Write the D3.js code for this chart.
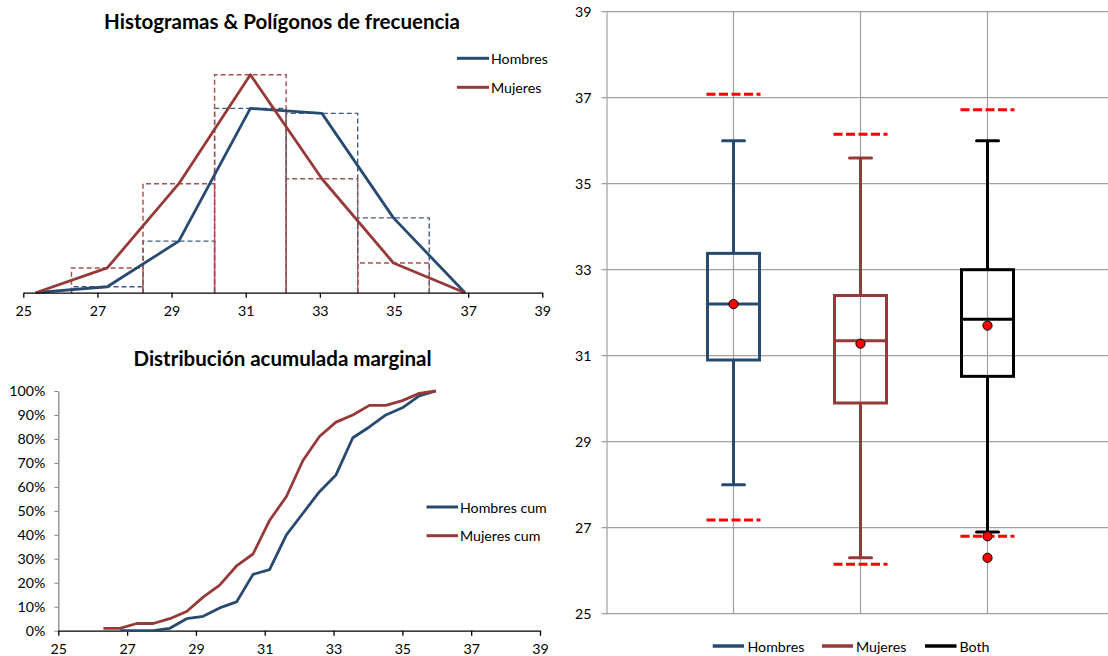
<!DOCTYPE html>
<html>
<head>
<meta charset="utf-8">
<script src="https://cdn.jsdelivr.net/npm/d3@7"></script>
<style>
  html, body { margin: 0; padding: 0; background: #fff; }
  svg { display: block; }
  text { font-family: Lato, "Open Sans", sans-serif; fill: #000; }
</style>
</head>
<body>
<svg id="chart" width="1108" height="656"></svg>
<script>
// ---------------- DATA ----------------
// Histogram / frequency polygon
const binEdges = [26.3, 28.23, 30.16, 32.09, 34.02, 35.95];
const polyX = [25.335, 27.265, 29.195, 31.125, 33.055, 34.985, 36.915];
const hombresFreq = [1.2, 10.4, 37.2, 36.2, 15.1];
const mujeresFreq = [5, 22, 44, 23, 6];
const histTicks = [25, 27, 29, 31, 33, 35, 37, 39];

// Cumulative distribution
const cumX = [26.31, 26.79, 27.28, 27.76, 28.24, 28.73, 29.21, 29.69, 30.18, 30.66, 31.14,
              31.63, 32.11, 32.59, 33.07, 33.56, 34.04, 34.52, 35.00, 35.49, 35.97];
const hombresCum = [null, 0, 0, 0, 1, 5, 6, 9.5, 12, 23.5, 25.5, 40, 49, 58, 65, 80.5, 85, 90, 93, 98, 100];
const mujeresCum = [1, 1, 3, 3, 5, 8, 14, 19, 27, 32, 46, 56, 71, 81, 87, 90, 94, 94, 96, 99, 100];
const cumYTicks = [0, 10, 20, 30, 40, 50, 60, 70, 80, 90, 100];

// Box plot
const boxCats = ["Hombres", "Mujeres", "Both"];
const boxPos = [1, 2, 3];
const whiskerLow = [28.0, 26.3, 26.9];
const q1 = [30.9, 29.9, 30.52];
const median = [32.2, 31.35, 31.85];
const q3 = [33.38, 32.4, 33.0];
const whiskerHigh = [36.0, 35.6, 36.0];
const means = [32.2, 31.28, 31.7];
const limitHigh = [37.08, 36.15, 36.72];
const limitLow = [27.18, 26.15, 26.8];
const outliersBoth = [26.8, 26.3];
const boxYTicks = [25, 27, 29, 31, 33, 35, 37, 39];

const BLUE = "#284A70", RED = "#953A38", BLACK = "#000";
const BLUE_D = "#3F5C82", RED_D = "#A84F4C";
const FS = 14.2, TFS = 20.5;

const svg = d3.select("#chart");

// ============ TOP-LEFT: Histogram & polygons ============
{
  const x = d3.scaleLinear().domain([25, 39]).range([23.3, 542.3]);
  const y = d3.scaleLinear().domain([0, 44]).range([292.7, 74.7]);
  const g = svg.append("g");

  g.append("text").attr("x", 282).attr("y", 21).attr("text-anchor", "middle")
    .attr("dominant-baseline", "central").attr("font-weight", "bold").attr("font-size", TFS)
    .text("Histogramas & Polígonos de frecuencia");

  const bins = d3.range(binEdges.length - 1).map(i => ({ x0: binEdges[i], x1: binEdges[i + 1], i }));
  const drawBins = (freq, color) => {
    g.append("g").selectAll("path").data(bins).join("path")
      .attr("d", b => `M${x(b.x0)},${y(0)}V${y(freq[b.i])}H${x(b.x1)}V${y(0)}`)
      .attr("fill", "none").attr("stroke", color).attr("stroke-width", 1.4)
      .attr("stroke-dasharray", "5,3");
  };
  drawBins(hombresFreq, BLUE_D);
  drawBins(mujeresFreq, RED_D);

  const line = d3.line().x(d => x(d[0])).y(d => y(d[1]));
  const poly = f => polyX.map((v, i) => [v, i === 0 || i === polyX.length - 1 ? 0 : f[i - 1]]);
  g.append("path").attr("d", line(poly(hombresFreq))).attr("fill", "none")
    .attr("stroke", BLUE).attr("stroke-width", 2.8).attr("stroke-linejoin", "round");
  g.append("path").attr("d", line(poly(mujeresFreq))).attr("fill", "none")
    .attr("stroke", RED).attr("stroke-width", 2.8).attr("stroke-linejoin", "round");

  const ax = g.append("g").attr("transform", `translate(0,${y(0)})`)
    .call(d3.axisBottom(x).tickValues(histTicks).tickSize(5).tickPadding(8).tickSizeOuter(0));
  ax.select(".domain").attr("stroke", "#000").attr("stroke-width", 1.3);
  ax.selectAll(".tick line").attr("stroke", "#000").attr("stroke-width", 1.3);
  ax.selectAll("text").attr("font-size", FS).attr("font-family", "Lato, sans-serif");

  const leg = [["Hombres", BLUE, 58.3], ["Mujeres", RED, 87.3]];
  leg.forEach(([t, c, yy]) => {
    g.append("line").attr("x1", 457).attr("x2", 489).attr("y1", yy).attr("y2", yy)
      .attr("stroke", c).attr("stroke-width", 3);
    g.append("text").attr("x", 491).attr("y", yy).attr("dominant-baseline", "central")
      .attr("font-size", FS).text(t);
  });
}

// ============ BOTTOM-LEFT: Cumulative ============
{
  const x = d3.scaleLinear().domain([25, 39]).range([58.3, 540]);
  const y = d3.scaleLinear().domain([0, 100]).range([630.7, 391]);
  const g = svg.append("g");

  g.append("text").attr("x", 282.5).attr("y", 358).attr("text-anchor", "middle")
    .attr("dominant-baseline", "central").attr("font-weight", "bold").attr("font-size", TFS)
    .text("Distribución acumulada marginal");

  const ay = g.append("g").attr("transform", `translate(${x(25)},0)`)
    .call(d3.axisLeft(y).tickValues(cumYTicks).tickFormat(d => d + "%").tickSize(4).tickPadding(9).tickSizeOuter(0));
  ay.select(".domain").attr("stroke", "#868686").attr("stroke-width", 1.3);
  ay.selectAll(".tick line").attr("stroke", "#868686");
  ay.selectAll("text").attr("font-size", FS).attr("font-family", "Lato, sans-serif");

  const ax = g.append("g").attr("transform", `translate(0,${y(0)})`)
    .call(d3.axisBottom(x).tickValues(histTicks).tickSize(5).tickPadding(8).tickSizeOuter(0));
  ax.select(".domain").attr("stroke", "#000").attr("stroke-width", 1.3);
  ax.selectAll(".tick line").attr("stroke", "#000").attr("stroke-width", 1.3);
  ax.selectAll("text").attr("font-size", FS).attr("font-family", "Lato, sans-serif");

  const line = d3.line().defined(d => d[1] !== null).x(d => x(d[0])).y(d => y(d[1]));
  g.append("path").attr("d", line(cumX.map((v, i) => [v, hombresCum[i]]))).attr("fill", "none")
    .attr("stroke", BLUE).attr("stroke-width", 2.8).attr("stroke-linejoin", "round");
  g.append("path").attr("d", line(cumX.map((v, i) => [v, mujeresCum[i]]))).attr("fill", "none")
    .attr("stroke", RED).attr("stroke-width", 2.8).attr("stroke-linejoin", "round");

  const leg = [["Hombres cum", BLUE, 507], ["Mujeres cum", RED, 535.7]];
  leg.forEach(([t, c, yy]) => {
    g.append("line").attr("x1", 426.5).attr("x2", 458).attr("y1", yy).attr("y2", yy)
      .attr("stroke", c).attr("stroke-width", 3);
    g.append("text").attr("x", 460).attr("y", yy).attr("dominant-baseline", "central")
      .attr("font-size", FS).text(t);
  });
}

// ============ RIGHT: Box plot ============
{
  const x = d3.scaleLinear().domain([0, 4]).range([606.5, 1114.5]);
  const y = d3.scaleLinear().domain([25, 39]).range([613.7, 11.7]);
  const g = svg.append("g");
  const GRID = "#A0A0A0";

  g.append("g").selectAll("line").data(boxYTicks).join("line")
    .attr("x1", x(0) - 5).attr("x2", 1108).attr("y1", d => y(d)).attr("y2", d => y(d))
    .attr("stroke", GRID).attr("stroke-width", 1.2);
  g.append("g").selectAll("line").data(boxPos).join("line")
    .attr("x1", d => x(d)).attr("x2", d => x(d)).attr("y1", y(39)).attr("y2", y(25))
    .attr("stroke", GRID).attr("stroke-width", 1.2);
  const ay = g.append("g").attr("transform", `translate(${x(0)},0)`)
    .call(d3.axisLeft(y).tickValues(boxYTicks).tickSize(0).tickPadding(15).tickSizeOuter(0));
  ay.select(".domain").attr("stroke", GRID).attr("stroke-width", 1.2);
  ay.selectAll("text").attr("font-size", FS).attr("font-family", "Lato, sans-serif");

  const colors = [BLUE, RED, BLACK];
  const bw = 52, cw = 22, dw = 54;
  boxPos.forEach((p, i) => {
    const cx = x(p), c = colors[i];
    const bg = g.append("g").attr("stroke", c).attr("stroke-width", 3).attr("fill", "none");
    bg.append("line").attr("x1", cx).attr("x2", cx).attr("y1", y(q3[i])).attr("y2", y(whiskerHigh[i]));
    bg.append("line").attr("x1", cx).attr("x2", cx).attr("y1", y(q1[i])).attr("y2", y(whiskerLow[i]));
    bg.append("line").attr("x1", cx - cw / 2).attr("x2", cx + cw / 2).attr("y1", y(whiskerHigh[i])).attr("y2", y(whiskerHigh[i])).attr("stroke-linecap", "round");
    bg.append("line").attr("x1", cx - cw / 2).attr("x2", cx + cw / 2).attr("y1", y(whiskerLow[i])).attr("y2", y(whiskerLow[i])).attr("stroke-linecap", "round");
    bg.append("rect").attr("x", cx - bw / 2).attr("width", bw)
      .attr("y", y(q3[i])).attr("height", y(q1[i]) - y(q3[i]));
    bg.append("line").attr("x1", cx - bw / 2).attr("x2", cx + bw / 2).attr("y1", y(median[i])).attr("y2", y(median[i]));
    [limitHigh[i], limitLow[i]].forEach(v => {
      g.append("line").attr("x1", cx - dw / 2).attr("x2", cx + dw / 2).attr("y1", y(v)).attr("y2", y(v))
        .attr("stroke", "#FF0000").attr("stroke-width", 3).attr("stroke-dasharray", "9,3.5");
    });
  });
  g.append("g").selectAll("circle").data(boxPos).join("circle")
    .attr("cx", d => x(d)).attr("cy", (d, i) => y(means[i])).attr("r", 4.6)
    .attr("fill", "#FF0000").attr("stroke", "#000").attr("stroke-width", 1);
  g.append("g").selectAll("circle").data(outliersBoth).join("circle")
    .attr("cx", x(3)).attr("cy", d => y(d)).attr("r", 4.6)
    .attr("fill", "#FF0000").attr("stroke", "#000").attr("stroke-width", 1);

  const leg = [["Hombres", BLUE, 712.7, 744, 747.5], ["Mujeres", RED, 822, 853, 856], ["Both", BLACK, 925, 956.5, 959.5]];
  leg.forEach(([t, c, a, b, tx]) => {
    g.append("line").attr("x1", a).attr("x2", b).attr("y1", 646).attr("y2", 646)
      .attr("stroke", c).attr("stroke-width", 3.5);
    g.append("text").attr("x", tx).attr("y", 646).attr("dominant-baseline", "central")
      .attr("font-size", FS).text(t);
  });
}
</script>
</body>
</html>
